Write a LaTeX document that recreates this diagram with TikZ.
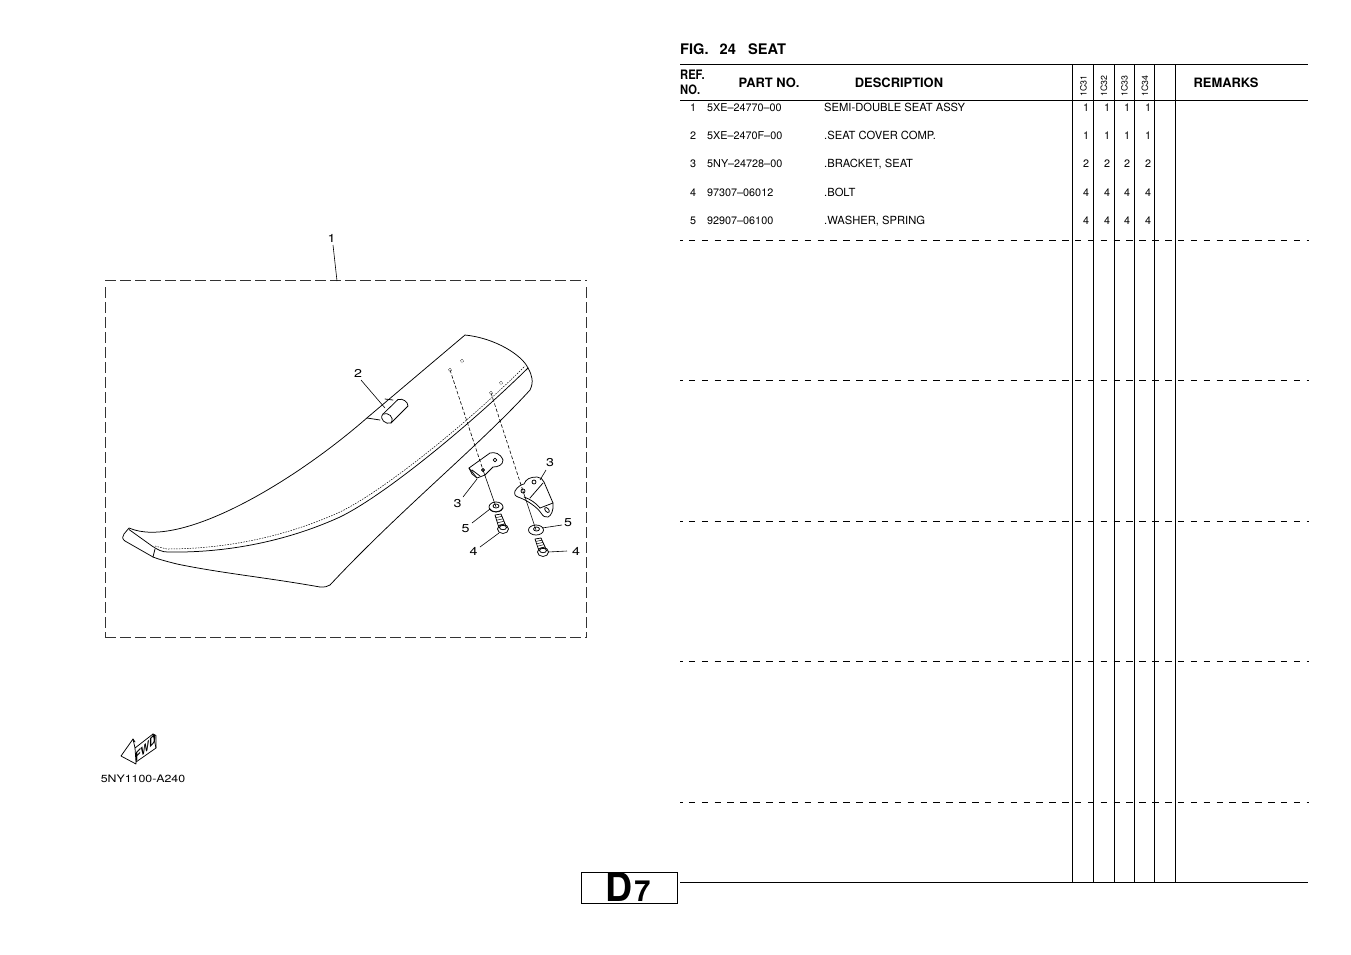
\documentclass[tikz,border=0pt]{standalone}
\usepackage{fontspec}
\setmainfont{TeX Gyre Heros}
\usetikzlibrary{calc}
\tikzset{
  x=1pt,y=-1pt,
  part/.style={line width=.75pt,line join=round,line cap=round},
  partfill/.style={part,fill=white},
  thin part/.style={line width=.5pt},
  leader/.style={line width=.6pt},
  phantom line/.style={line width=.6pt,dash pattern=on 3.5pt off 2pt},
  frameline/.style={line width=.6pt,black!80,dash pattern=on 10.5pt off 4.5pt},
  callout/.style={inner sep=0pt,font=\fontsize{11.4}{12}\selectfont,xscale=1.25,transform shape},
  rule/.style={line width=.9pt},
  dashrule/.style={line width=.9pt,dash pattern=on 6.5pt off 6.37pt,dash phase=4pt},
  small/.style={inner sep=0pt,font=\fontsize{10.8}{12}\selectfont},
  smalll/.style={small,anchor=west},
  desc/.style={smalll,font=\fontsize{11.2}{12}\selectfont},
  head/.style={inner sep=0pt,font=\bfseries\fontsize{12.9}{14}\selectfont},
  refhead/.style={inner sep=0pt,anchor=west,font=\bfseries\fontsize{13}{14}\selectfont,xscale=.86,transform shape},
  qty/.style={small},
  model/.style={inner sep=0pt,font=\fontsize{8.8}{10}\selectfont,rotate=90},
}
\begin{document}
\begin{tikzpicture}
\useasboundingbox (0,0) rectangle (1351,954);
\fill[white] (0,0) rectangle (1351,954);

% --- frame of the assembly
\draw[frameline] (105,280.5) -- (587,280.5);
\draw[frameline] (105.5,287) -- (105.5,637.5);
\draw[frameline] (586.5,287) -- (586.5,637.5);
\draw[frameline] (105,637.5) -- (587,637.5);

% --- seat outline
\draw[part] (129,528) .. controls (180,550) and (294,482) .. (368,417) -- (465,335)
  .. controls (495,338) and (522,355) .. (528,368)
  .. controls (532,375) and (534,382) .. (530,390)
  .. controls (480,445) and (400,510) .. (330,585)
  .. controls (327,587) and (325,587) .. (320,587)
  .. controls (270,578) and (220,573) .. (177,564)
  .. controls (165,561) and (158,559) .. (153,557)
  -- (125,541) .. controls (122,539) and (122,536) .. (124,534) -- cycle;
% inner edge of the nose and solid seam
\draw[part] (129,529.5) -- (152,546) .. controls (158,550) and (162,552) .. (168,552)
  .. controls (225,553) and (285,542) .. (340,517)
  .. controls (385,495) and (470,425) .. (528,368);
% stitched seam
\draw[thin part,dash pattern=on 1.5pt off 1.2pt] (155,546) -- (167,549)
  .. controls (225,549) and (285,537) .. (340,512)
  .. controls (385,490) and (470,421) .. (525,366);
% front band line
\draw[part] (155,549) -- (153,557);

% --- seat cover label tag
\draw[partfill] (383,414) -- (398,399.5) .. controls (403,398) and (408,402) .. (408,406)
  -- (391,423) .. controls (386,425) and (378.5,419) .. (383,414) -- cycle;
\draw[part] (391,423) .. controls (395,417) and (388,412) .. (383,414);
\draw[part] (367,418) -- (380,420);
\draw[part] (385,399) -- (393,400);

% --- holes
\foreach \hx/\hy/\hn in {450/370/h1,462/361/h2,491/393/h3,501/383/h4}{
  \coordinate (\hn) at (\hx,\hy);
  \draw[thin part,densely dotted] (\hn) circle (1.8pt);
}

% --- bracket, left
\draw[partfill] (469,468) -- (490,453) .. controls (495,452) and (500,453) .. (503,460)
  .. controls (503,465) and (498,467) .. (493,467) -- (485,475) -- (477,478) -- (472,474) -- cycle;
\draw[part] (472,470) -- (480,476) (469,468) -- (477,478);
\draw[part] (495,460) circle (1.8pt);
\coordinate (holeA) at (483,470);
\draw[part] (holeA) circle (1.5pt);

% --- bracket, right
\draw[partfill] (515,491) .. controls (517,487) and (522,484) .. (524,484)
  .. controls (526,479) and (530,477) .. (537,477)
  .. controls (540,477) and (543,479) .. (544,482) -- (553,503)
  .. controls (554,510) and (551,516) .. (548,517)
  .. controls (545,518) and (543,516) .. (541,513)
  .. controls (537,507) and (527,500) .. (518,497)
  .. controls (515,496) and (514,494) .. (515,491) -- cycle;
\draw[part] (543,483) -- (530,498) (553,503) -- (540,508);
\draw[part] (524,497) .. controls (530,499) and (536,503) .. (540,508);
\draw[part] (534,482) circle (2pt);
\coordinate (holeB) at (523,491);
\draw[part] (holeB) circle (2pt);
\draw[part,rotate around={-50:(547,510)}] (547,510) ellipse (3pt and 1.7pt);

% --- washers
\coordinate (washA) at (496,507);
\coordinate (washB) at (536,530);
\draw[partfill] (washA) ellipse (7pt and 5pt);
\draw[part] (496,506) ellipse (3pt and 2pt);
\draw[part] (489.5,508.5) .. controls (492,513) and (500,513) .. (503,508);
\draw[partfill] (washB) ellipse (7.5pt and 5pt);
\draw[part] (536.5,529) ellipse (3pt and 2pt);

% --- phantom lines through the parts
\draw[phantom line] (h1) -- (holeA);
\draw[phantom line] (h3) -- (holeB);
\draw[leader] (holeA) -- (washA);
\draw[leader] (holeB) -- (washB);

% --- bolts
\foreach \bx/\by/\tx/\ty/\bn in {503/529/499/518/boltA,543/552/539/542/boltB}{
  \draw[partfill] (\bx-4,\by-1) -- (\tx-4,\ty-3) -- (\tx+2,\ty-4) -- (\bx+3,\by-3) -- cycle;
  \foreach \t in {.2,.4,.6,.8}{
    \draw[thin part] ($(\bx-4,\by-1)!\t!(\tx-4,\ty-3)$) -- ($(\bx+3,\by-3)!\t!(\tx+2,\ty-4)$);
  }
  \coordinate (\bn) at (\bx,\by);
  \draw[partfill] (\bn) ellipse (5.5pt and 4.5pt);
  \draw[part] (\bx,\by-1.5) ellipse (3.5pt and 2.2pt);
}

% --- call-outs
\node[callout] (c1) at (331.5,238) {1};
\node[callout] (c2) at (358,373.5) {2};
\node[callout] (c3r) at (550,462.5) {3};
\node[callout] (c3l) at (457.5,503.5) {3};
\node[callout] (c5l) at (465.5,528.5) {5};
\node[callout] (c5r) at (568,523) {5};
\node[callout] (c4l) at (473.5,551.5) {4};
\node[callout] (c4r) at (576,551.5) {4};
\coordinate (e1a) at (333,245); \coordinate (e1b) at (337,281);
\coordinate (e2a) at (361,380); \coordinate (e2b) at (385,408);
\coordinate (e3ra) at (546,470); \coordinate (e3rb) at (540,480);
\coordinate (e3la) at (463,497); \coordinate (e3lb) at (477,479);
\coordinate (e5la) at (472,523); \coordinate (e5lb) at (490,509);
\coordinate (e5ra) at (562,525); \coordinate (e5rb) at (542,528);
\coordinate (e4la) at (480,547); \coordinate (e4lb) at (499,533);
\coordinate (e4ra) at (567,551); \coordinate (e4rb) at (548,552);
\foreach \a/\b in {e1a/e1b,e2a/e2b,e3ra/e3rb,e3la/e3lb,e5la/e5lb,e5ra/e5rb,e4la/e4lb,e4ra/e4rb}{
  \draw[leader] (\a) -- (\b);
}

% --- FWD arrow
\draw[partfill] (121,756) -- (133,739) -- (135,748) -- (153,734) -- (156,748) -- (136,762) -- (136,764) -- cycle;
\draw[part] (135,748) -- (136,762);
\draw[part] (133,739) -- (135,742) (153,734) -- (156,735.5) -- (156,748);
\node[inner sep=0pt,font=\bfseries\fontsize{12.5}{13}\selectfont,xscale=.72,yslant=.72,transform shape] (fwd) at (145.5,748) {FWD};
\node[inner sep=0pt,font=\fontsize{10.3}{12}\selectfont,xscale=1.2,transform shape] (code) at (143,778.5) {5NY1100-A240};

% --- table rules
\draw[rule] (680,64.5) -- (1308,64.5);
\draw[rule] (680,100.5) -- (1308,100.5);
\draw[rule] (680,882.5) -- (1308,882.5);
\foreach \ry in {240.5,380.5,521,661.5,802}{
  \draw[dashrule] (680,\ry) -- (1309,\ry);
}
\foreach \vx in {1072.7,1093.4,1114.2,1134.6,1154.8,1175.6}{
  \draw[rule] (\vx,64.5) -- (\vx,882.5);
}

% --- table heading
\node[head,anchor=west,font=\bfseries\fontsize{14.6}{15}\selectfont] (fig) at (680,49.5) {FIG.\hspace{.76em}24\hspace{.84em}SEAT};
\node[refhead] (ref1) at (680,75) {REF.};
\node[refhead] (ref2) at (680,89.5) {NO.};
\node[head] (hpart) at (769,82.8) {PART NO.};
\node[head] (hdesc) at (899,82.8) {DESCRIPTION};
\node[head] (hrem) at (1226,82.8) {REMARKS};
\node[model] (m1) at (1083.5,86) {1C31};
\node[model] (m2) at (1104,86) {1C32};
\node[model] (m3) at (1124.5,86) {1C33};
\node[model] (m4) at (1145,86) {1C34};

% --- rows
\foreach \rn/\ry/\rp/\rd/\qa/\qb/\qc/\qd in {
  1/107.8/5XE–24770–00/SEMI-DOUBLE SEAT ASSY/1/1/1/1,
  2/135.8/5XE–2470F–00/.SEAT COVER COMP./1/1/1/1,
  3/163.8/5NY–24728–00/{.BRACKET, SEAT}/2/2/2/2,
  4/192.8/97307–06012/.BOLT/4/4/4/4,
  5/220.8/92907–06100/{.WASHER, SPRING}/4/4/4/4}{
  \node[small] (n\rn) at (693,\ry) {\rn};
  \node[smalll] (p\rn) at (707,\ry) {\rp};
  \node[desc] (d\rn) at (824,\ry) {\rd};
  \node[qty] (qa\rn) at (1086,\ry) {\qa};
  \node[qty] (qb\rn) at (1107,\ry) {\qb};
  \node[qty] (qc\rn) at (1127,\ry) {\qc};
  \node[qty] (qd\rn) at (1148,\ry) {\qd};
}

% --- page tab
\draw[line width=.9pt] (581.5,872) rectangle (677.5,903.5);
\node[inner sep=0pt,anchor=base,font=\bfseries\fontsize{39.5}{40}\selectfont,xscale=.95,transform shape] (tabD) at (619,901) {D};
\node[inner sep=0pt,anchor=base,font=\bfseries\fontsize{29}{30}\selectfont] (tab7) at (642.5,901) {7};
\end{tikzpicture}
\end{document}
